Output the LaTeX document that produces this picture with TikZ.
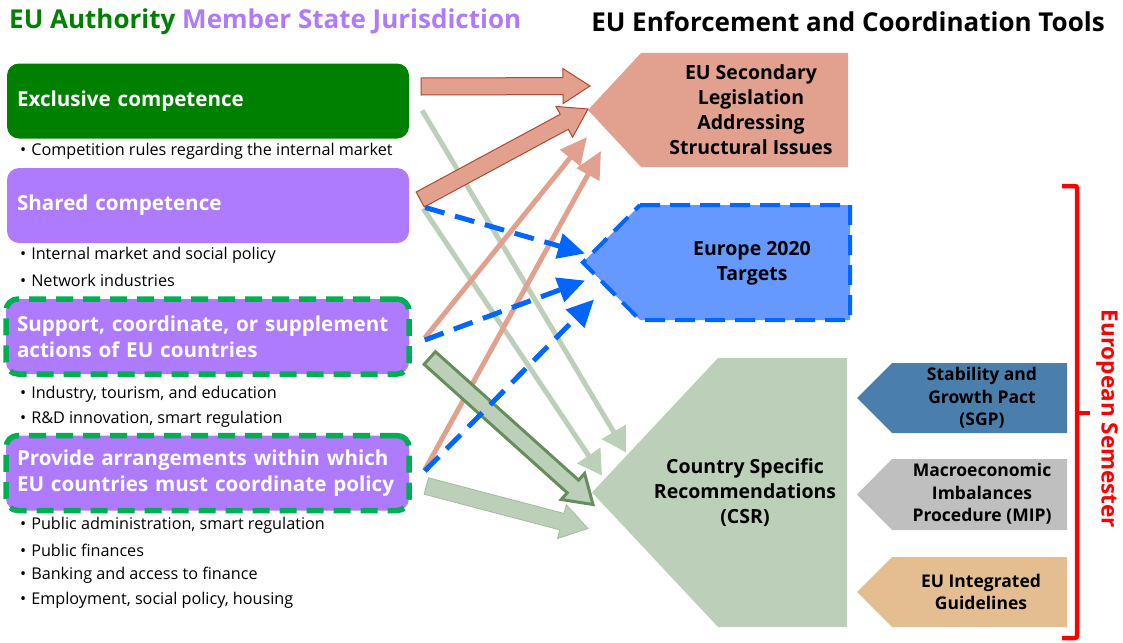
\documentclass[tikz,border=0pt]{standalone}
\usepackage{fontspec}
\setmainfont{Open Sans}
\usetikzlibrary{arrows.meta,calc}
\definecolor{eugreen}{HTML}{008000}
\definecolor{msviolet}{HTML}{AE7BFF}
\definecolor{dashgreen}{HTML}{00B050}
\definecolor{salmon}{HTML}{E2A18F}
\definecolor{salmonline}{HTML}{B0472F}
\definecolor{skyblue}{HTML}{6699FF}
\definecolor{dashblue}{HTML}{0066FF}
\definecolor{sage}{HTML}{BCD0B9}
\definecolor{sageline}{HTML}{668E5C}
\definecolor{steel}{HTML}{4A7FAD}
\definecolor{silver}{HTML}{BFBFBF}
\definecolor{semtan}{HTML}{E4BE90}

\tikzset{
	heading/.style={inner sep=0pt, font=\bfseries\fontsize{26}{30}\selectfont},
	compbox/.style={rounded corners=12pt, text=white, align=left, text width=382pt,
		inner xsep=10pt, minimum height=75pt, font=\bfseries\fontsize{20.6}{26}\selectfont},
	dashbox/.style={compbox, fill=msviolet, draw=dashgreen, line width=5.5pt,
		dash pattern=on 17pt off 10pt, text width=381pt, inner xsep=11pt},
	item/.style={anchor=west, inner sep=0pt, font=\fontsize{16.2}{25}\selectfont},
	tagtext/.style={align=center, inner sep=0pt, font=\bfseries\fontsize{19.5}{25}\selectfont},
	smalltag/.style={align=center, inner sep=0pt, font=\bfseries\fontsize{17.5}{22.5}\selectfont},
	sagearrow/.style={sage, line width=5pt, -{Triangle[length=24pt,width=27pt]}},
	salmonarrow/.style={salmon, line width=5pt, -{Triangle[length=27pt,width=25pt]}},
	bluearrow/.style={dashblue, line width=5pt, dash pattern=on 20pt off 11pt,
		-{Triangle[length=27pt,width=25pt]}},
	fatsalmon/.style={fill=salmon, draw=salmonline, line width=1pt},
	fatsage/.style={fill=sage, draw=sageline, line width=3pt},
	fatsagelight/.style={fill=sage, draw=sageline!60, line width=0.8pt}
}

% block arrow: style, tail, tip
\newcommand{\fatarrow}[3]{
	\coordinate (fat0) at #2;
	\coordinate (fat1) at #3;
	\coordinate (fatb) at ($(fat1)!27pt!(fat0)$);
	\draw[#1] ($(fat0)!8.5pt!90:(fat1)$) -- ($(fatb)!8.5pt!90:(fat1)$)
		-- ($(fatb)!17.5pt!90:(fat1)$) -- (fat1) -- ($(fatb)!17.5pt!-90:(fat1)$)
		-- ($(fatb)!8.5pt!-90:(fat1)$) -- ($(fat0)!8.5pt!-90:(fat1)$) -- cycle;
}

\begin{document}
\begin{tikzpicture}[x=1pt,y=-1pt]
	\useasboundingbox (0,0) rectangle (1123,642);
	\node[heading, anchor=west] (authority) at (9,22)
		{\textcolor{eugreen}{EU Authority} \textcolor{msviolet}{Member State Jurisdiction}};
	\node[heading] (tools) at (848,22) {EU Enforcement and Coordination Tools};

	\node[compbox, fill=eugreen] (excl) at (208,101) {Exclusive competence};
	\node[compbox, fill=msviolet] (shared) at (208,205.5) {Shared competence};
	\node[dashbox] (support) at (207.5,336.5) {Support, coordinate, or supplement\\actions of EU countries};
	\node[dashbox] (provide) at (207.5,473) {Provide arrangements within which\\EU countries must coordinate policy};
	\foreach \y/\t in {151/Competition rules regarding the internal market,
		255/Internal market and social policy, 280/Network industries,
		394/{Industry, tourism, and education}, 419/{R\&D innovation, smart regulation},
		525/{Public administration, smart regulation}, 550/Public finances,
		575/Banking and access to finance, 600/{Employment, social policy, housing}}{
		\node[item] (item\y) at (20,\y) {\textbullet\hspace{5pt}\t};
	}

	% tools
	\fill[salmon] (641,53) -- (848,53) -- (848,167) -- (641,167) -- (588,110) -- cycle;
	\draw[dashblue, fill=skyblue, line width=4pt, dash pattern=on 20pt off 10pt]
		(640,205) -- (850,205) -- (850,320) -- (640,320) -- (583,262.5) -- cycle;
	\fill[sage] (718,358) -- (847,358) -- (847,627) -- (718,627) -- (592,492.5) -- cycle;
	\foreach \c/\t/\b in {steel/363/433, silver/459/530, semtan/557/627}{
		\fill[\c] (892,\t) -- (1067,\t) -- (1067,\b) -- (892,\b) -- (857,{(\t+\b)/2}) -- cycle;
	}
	\coordinate (sectip) at (588,110);
	\coordinate (eutip) at (583,262.5);
	\coordinate (csrtip) at (592,492.5);
	\node[tagtext] (sec) at (751,110) {EU Secondary\\Legislation\\Addressing\\Structural Issues};
	\node[tagtext] (europe) at (752,263) {Europe 2020\\Targets};
	\node[tagtext] (csr) at (745,493) {Country Specific\\Recommendations\\(CSR)};
	\node[smalltag] (sgp) at (982,398) {Stability and\\Growth Pact\\(SGP)};
	\node[smalltag] (mip) at (982,494) {Macroeconomic\\Imbalances\\Procedure (MIP)};
	\node[smalltag] (guide) at (981,592) {EU Integrated\\Guidelines};

	\draw[red, line width=4.5pt, rounded corners=2pt] (1062,186) -- (1077,186) -- (1077,638) -- (1062,638);
	\draw[red, line width=4.5pt] (1077,413) -- (1090,413);
	\node[rotate=-90, text=red, inner sep=0pt, font=\bfseries\fontsize{22.5}{27}\selectfont]
		(semester) at (1107,419) {European Semester};

	% links
	\draw[sagearrow] ([shift={(13,9.5)}]excl.east) -- ([shift={(34,-40)}]csrtip);
	\draw[sagearrow] ([shift={(14,3)}]shared.east) -- ([shift={(10,-17)}]csrtip);
	\draw[salmonarrow] ([shift={(13,1.5)}]support.east) -- ([shift={(-1,27)}]sectip);
	\draw[salmonarrow] ([shift={(13,-3)}]provide.east) -- ([shift={(13,41)}]sectip);
	\fatarrow{fatsalmon}{([shift={(12,-14.5)}]excl.east)}{([shift={(2,-24)}]sectip)}
	\fatarrow{fatsalmon}{([shift={(11,-6)}]shared.east)}{([shift={(0,-1)}]sectip)}
	\fatarrow{fatsage}{([shift={(18,21.5)}]support.east)}{([shift={(1,12)}]csrtip)}
	\fatarrow{fatsagelight}{([shift={(14.5,13)}]provide.east)}{([shift={(-4,36)}]csrtip)}
	\draw[bluearrow] ([shift={(16,2)}]shared.east) -- ([shift={(2,-9)}]eutip);
	\draw[bluearrow] ([shift={(13,3.5)}]support.east) -- ([shift={(2,18)}]eutip);
	\draw[bluearrow] ([shift={(13,-2)}]provide.east) -- ([shift={(11,37)}]eutip);
\end{tikzpicture}
\end{document}
